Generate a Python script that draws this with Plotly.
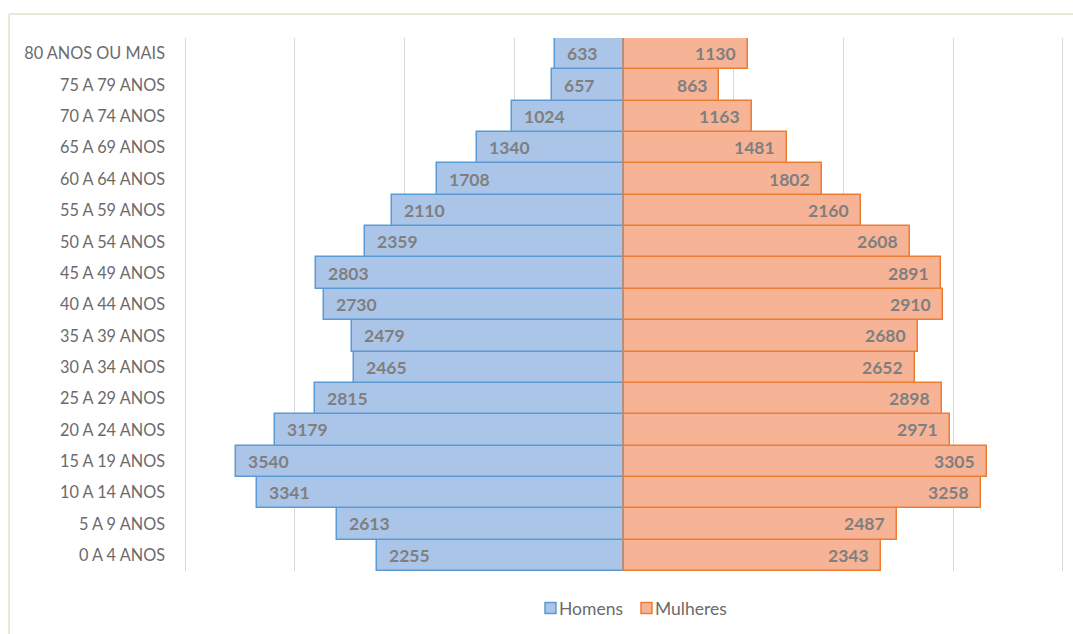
import plotly.graph_objects as go

# Age groups, youngest first (bottom of the pyramid)
age_groups = [
    "0 A 4 ANOS", "5 A 9 ANOS", "10 A 14 ANOS", "15 A 19 ANOS", "20 A 24 ANOS",
    "25 A 29 ANOS", "30 A 34 ANOS", "35 A 39 ANOS", "40 A 44 ANOS", "45 A 49 ANOS",
    "50 A 54 ANOS", "55 A 59 ANOS", "60 A 64 ANOS", "65 A 69 ANOS", "70 A 74 ANOS",
    "75 A 79 ANOS", "80 ANOS OU MAIS",
]
homens = [2255, 2613, 3341, 3540, 3179, 2815, 2465, 2479, 2730, 2803,
          2359, 2110, 1708, 1340, 1024, 657, 633]
mulheres = [2343, 2487, 3258, 3305, 2971, 2898, 2652, 2680, 2910, 2891,
            2608, 2160, 1802, 1481, 1163, 863, 1130]
series_names = ["Homens", "Mulheres"]

FONT = "Lato"
LABEL_GREY = "#7f7f7f"
TEXT_GREY = "#6b6b6b"
FILLS = ["#abc5e8", "#f6b396"]
EDGES = ["#5b9bd5", "#ed7d31"]

# Plot-area geometry in pixels
W, H = 1073, 634
ML, MR, MT, MB = 184, 9, 38, 63
PW, PH = W - ML - MR, H - MT - MB


def px_x(px):
    return (px - ML) / PW


def px_y(py):
    return (H - MB - py) / PH


fig = go.Figure()
fig.add_trace(go.Bar(
    y=age_groups, x=[-v for v in homens], orientation="h", name=series_names[0],
    marker=dict(color=FILLS[0], line=dict(color=EDGES[0], width=1.5)),
    hoverinfo="skip", showlegend=False,
))
fig.add_trace(go.Bar(
    y=age_groups, x=mulheres, orientation="h", name=series_names[1],
    marker=dict(color=FILLS[1], line=dict(color=EDGES[1], width=1.5)),
    hoverinfo="skip", showlegend=False,
))

# Value labels near the outer end of each bar
label_font = dict(family=FONT, size=17.5, color=LABEL_GREY, weight="bold")
annotations = []
for cat, h, m in zip(age_groups, homens, mulheres):
    annotations.append(dict(x=-h, y=cat, text=str(h), showarrow=False,
                            xanchor="left", xshift=10, font=label_font))
    annotations.append(dict(x=m, y=cat, text=str(m), showarrow=False,
                            xanchor="right", xshift=-10, font=label_font))

# Chart-area frame (top and left edges)
frame = "#ede7da"
shapes = [
    dict(type="line", xref="paper", yref="paper", x0=px_x(9), x1=px_x(1080),
         y0=px_y(14), y1=px_y(14), line=dict(color=frame, width=2)),
    dict(type="line", xref="paper", yref="paper", x0=px_x(9), x1=px_x(9),
         y0=px_y(640), y1=px_y(14), line=dict(color=frame, width=2)),
]

# Compact legend: swatch with the name right beside it
legend_left = [544, 640]
legend_cy = 608
for name, fill, edge, lx in zip(series_names, FILLS, EDGES, legend_left):
    shapes.append(dict(type="rect", xref="paper", yref="paper",
                       x0=px_x(lx + 1), x1=px_x(lx + 12),
                       y0=px_y(legend_cy + 5.5), y1=px_y(legend_cy - 5.5),
                       fillcolor=fill, line=dict(color=edge, width=1.5)))
    annotations.append(dict(xref="paper", yref="paper", x=px_x(lx + 13), y=px_y(legend_cy),
                            xanchor="left", yanchor="middle", showarrow=False, text=name,
                            font=dict(family=FONT, size=17.5, color=TEXT_GREY)))

fig.update_layout(
    width=W, height=H,
    margin=dict(l=ML, r=MR, t=MT, b=MB, autoexpand=False),
    paper_bgcolor="white", plot_bgcolor="white",
    barmode="overlay", bargap=0,
    font=dict(family=FONT, color=TEXT_GREY, size=16),
    xaxis=dict(range=[-4010, 4010], tickvals=[-4000, -3000, -2000, -1000, 0, 1000, 2000, 3000, 4000],
               showticklabels=False,
               showgrid=True, gridcolor="#d9d9d9", gridwidth=1,
               zeroline=False, showline=False, fixedrange=True),
    yaxis=dict(categoryorder="array", categoryarray=age_groups,
               range=[-0.5, 16.5], showgrid=False, zeroline=False, showline=False,
               ticks="", ticklabelstandoff=18, automargin=False,
               tickfont=dict(family=FONT, size=16.3, color=TEXT_GREY)),
    annotations=annotations,
    shapes=shapes,
    showlegend=False,
)

fig.write_html("out.html")
